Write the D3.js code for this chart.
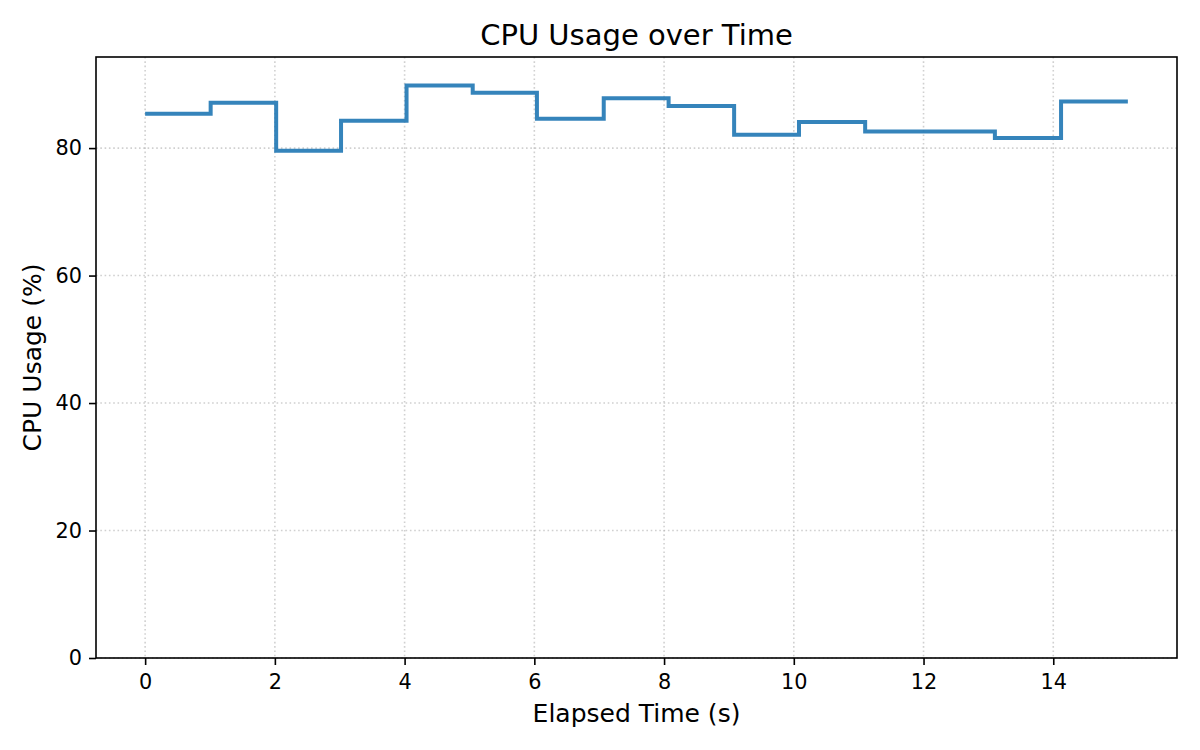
<!DOCTYPE html>
<html>
<head>
<meta charset="utf-8">
<script src="https://cdn.jsdelivr.net/npm/d3@7"></script>
<style>
    body { margin: 0; background: #fff; }
    text { font-family: "DejaVu Sans", sans-serif; fill: #000; }
    .grid line { stroke: #b0b0b0; stroke-opacity: 0.6; stroke-width: 1.6; stroke-dasharray: 1.6, 2.7; }
    .axis path, .axis line { stroke: #000; stroke-width: 1.6; }
    .axis text { font-size: 20.8px; }
</style>
</head>
<body>
<div id="chart"></div>
<script>
// elapsed time of each sample (s) and measured CPU usage (%)
const elapsed = [0, 1.01, 2.02, 3.02, 4.03, 5.05, 6.04, 7.07, 8.07, 9.08, 10.08, 11.10, 12.10, 13.10, 14.12, 15.15];
const cpuUsage = [85.4, 87.1, 79.6, 84.3, 89.8, 88.7, 84.6, 87.8, 86.6, 82.1, 84.1, 82.6, 82.6, 81.6, 87.3, 87.3];
const xTicks = [0, 2, 4, 6, 8, 10, 12, 14];
const yTicks = [0, 20, 40, 60, 80];

const width = 1200, height = 750;
const margin = {top: 57, right: 23, bottom: 92, left: 96};
const innerW = width - margin.left - margin.right;
const innerH = height - margin.top - margin.bottom;

const svg = d3.select("#chart").append("svg")
    .attr("width", width)
    .attr("height", height);

const g = svg.append("g")
    .attr("transform", `translate(${margin.left},${margin.top})`);

// matplotlib-style 5% padding on x, y starts at 0 and tops out at max * 1.05
const xMin = d3.min(elapsed), xMax = d3.max(elapsed);
const pad = (xMax - xMin) * 0.05;
const xScale = d3.scaleLinear()
    .domain([xMin - pad, xMax + pad])
    .range([0, innerW]);
const yScale = d3.scaleLinear()
    .domain([0, d3.max(cpuUsage) * 1.05])
    .range([innerH, 0]);

//grid lines
g.append("g").attr("class", "grid")
    .selectAll("line").data(xTicks).enter().append("line")
    .attr("x1", d => xScale(d)).attr("x2", d => xScale(d))
    .attr("y1", 0).attr("y2", innerH);
g.append("g").attr("class", "grid")
    .selectAll("line").data(yTicks).enter().append("line")
    .attr("x1", 0).attr("x2", innerW)
    .attr("y1", d => yScale(d)).attr("y2", d => yScale(d));

//the step line
const points = elapsed.map((t, i) => [t, cpuUsage[i]]);
const line = d3.line()
    .x(d => xScale(d[0]))
    .y(d => yScale(d[1]))
    .curve(d3.curveStepAfter);

g.append("path")
    .datum(points)
    .attr("d", line)
    .attr("fill", "none")
    .attr("stroke", "#1f77b4")
    .attr("stroke-opacity", 0.9)
    .attr("stroke-width", 4)
    .attr("stroke-linejoin", "miter");

//axes
const xAxis = g.append("g").attr("class", "axis")
    .attr("transform", `translate(0,${innerH})`)
    .call(d3.axisBottom(xScale).tickValues(xTicks).tickFormat(d3.format("d")).tickSize(7).tickPadding(7).tickSizeOuter(0));
const yAxis = g.append("g").attr("class", "axis")
    .call(d3.axisLeft(yScale).tickValues(yTicks).tickFormat(d3.format("d")).tickSize(7).tickPadding(7).tickSizeOuter(0));
xAxis.select(".domain").remove();
yAxis.select(".domain").remove();
xAxis.selectAll("text").attr("dy", "0.8em");

//frame
g.append("rect")
    .attr("width", innerW)
    .attr("height", innerH)
    .attr("fill", "none")
    .attr("stroke", "#000")
    .attr("stroke-width", 1.6);

//labels
svg.append("text")
    .attr("x", margin.left + innerW / 2)
    .attr("y", 44.5)
    .attr("text-anchor", "middle")
    .style("font-size", "29px")
    .text("CPU Usage over Time");

svg.append("text")
    .attr("x", margin.left + innerW / 2)
    .attr("y", 722)
    .attr("text-anchor", "middle")
    .style("font-size", "25px")
    .text("Elapsed Time (s)");

svg.append("text")
    .attr("transform", `translate(41,${margin.top + innerH / 2}) rotate(-90)`)
    .attr("text-anchor", "middle")
    .style("font-size", "25px")
    .text("CPU Usage (%)");
</script>
</body>
</html>
